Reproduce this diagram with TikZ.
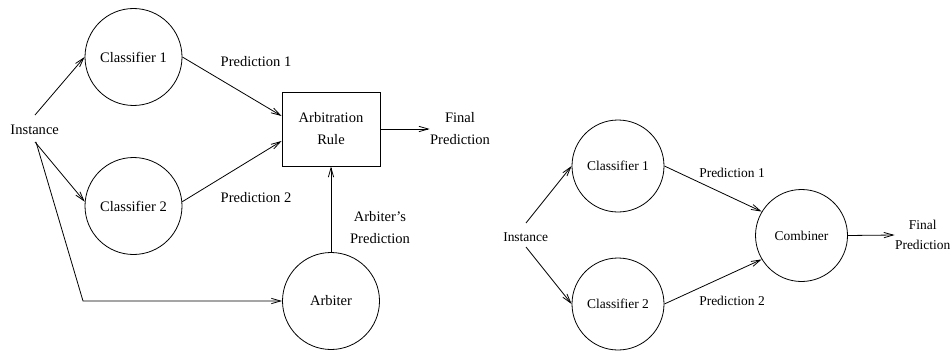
\documentclass[tikz,border=0pt]{standalone}
\usepackage{fontspec}
\setmainfont{Liberation Serif}
\usetikzlibrary{arrows.meta,calc}
\begin{document}
\begin{tikzpicture}[x=0.75pt,y=-0.75pt,
  line width=0.6pt,
  arr/.style={-{Straight Barb[length=7pt,width=4pt]}},
  lcirc/.style={draw,circle,inner sep=0pt,minimum size=72.75pt,font=\fontsize{10.9}{16.5}\selectfont},
  rcirc/.style={draw,circle,inner sep=0pt,minimum size=69pt,font=\fontsize{10.1}{15}\selectfont},
  ltxt/.style={inner sep=0pt,align=center,font=\fontsize{10.9}{16.5}\selectfont},
  rtxt/.style={inner sep=0pt,align=center,font=\fontsize{10.1}{15}\selectfont}]
\useasboundingbox (0,0) rectangle (952,353);
% ---------- left diagram ----------
\node[lcirc] (c1) at (133.5,57) {Classifier 1};
\node[lcirc] (c2) at (133.5,206) {Classifier 2};
\node[lcirc] (arb) at (331,301) {Arbiter};
\node[draw,minimum width=73.5pt,minimum height=55.5pt,inner sep=0pt,ltxt] (box) at (331,129) {Arbitration\\Rule};
\node[ltxt] (inst) at (34.7,130) {Instance};
\node[ltxt] (p1) at (256,62) {Prediction 1};
\node[ltxt] (p2) at (256,198) {Prediction 2};
\node[ltxt] (fp) at (460,129) {Final\\Prediction};
\node[ltxt] (ap) at (380,228) {Arbiter’s\\Prediction};
\coordinate (s1) at (35,115);
\coordinate (s2) at (35,142);
\coordinate (s3) at (36,142);
\coordinate (bend) at (83,301);
\draw[arr] (s1) -- (c1.west);
\draw[arr] (s2) -- (c2.175);
\draw[arr] (s3) -- (bend) -- (arb.west);
\draw[arr] (c1.east) -- ($(box.west)+(0,-13)$);
\draw[arr] (c2.5) -- ($(box.west)+(0,12)$);
\draw[arr] (box.east) -- (fp.west);
\draw[arr] (arb.north) -- (box.south);
% ---------- right diagram ----------
\node[rcirc] (rc1) at (618,166) {Classifier 1};
\node[rcirc] (rc2) at (618,304) {Classifier 2};
\node[rcirc] (comb) at (801.5,235.5) {Combiner};
\node[rtxt] (rinst) at (525.7,236.7) {Instance};
\node[rtxt] (rp1) at (732,173) {Prediction 1};
\node[rtxt] (rp2) at (732,300.7) {Prediction 2};
\node[rtxt] (rfp) at (922.7,235) {Final\\Prediction};
\coordinate (r1) at (526,223);
\coordinate (r2) at (526,247);
\draw[arr] (r1) -- (rc1.west);
\draw[arr] (r2) -- (rc2.west);
\draw[arr] (rc1.east) -- (comb.149);
\draw[arr] (rc2.east) -- (comb.211);
\draw[arr] (comb.east) -- (rfp.west);
\end{tikzpicture}
\end{document}
